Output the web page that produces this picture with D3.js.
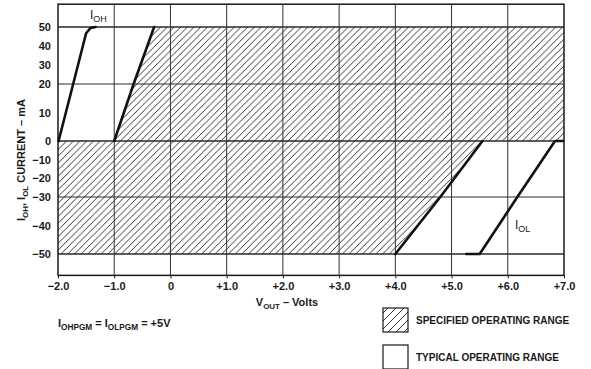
<!DOCTYPE html>
<html>
<head>
<meta charset="utf-8">
<script src="https://cdn.jsdelivr.net/npm/d3@7"></script>
<style>
  body { margin: 0; background: #fff; }
  text { font-family: "Liberation Sans", Arial, Helvetica, sans-serif; fill: #1a1a1a; }
</style>
</head>
<body>
<svg id="chart" width="591" height="369"></svg>
<script>
// x axis: output voltage (V)
const xTicks = [-2, -1, 0, 1, 2, 3, 4, 5, 6, 7];
const xLabels = ['\u22122.0', '\u22121.0', '0', '+1.0', '+2.0', '+3.0', '+4.0', '+5.0', '+6.0', '+7.0'];
// y axis: current (mA), the printed scale is not uniform
const yTicks = [50, 40, 30, 20, 10, 0, -10, -20, -30, -40, -50];
const yLabels = ['50', '40', '30', '20', '10', '0', '\u221210', '\u221220', '\u221230', '\u221240', '\u221250'];
const yGrid = [50, 20, 0, -30, -50];
const xMin = -2, xMax = 7, yMax = 62, yMin = -57.5;

// specified operating range (hatched)
const specV = [-1.0, -0.655, -0.29, 7, 7, 5.55, 4.8, 4.0, -2, -2];
const specI = [0, 20, 50, 50, 0, 0, -30, -50, -50, 0];

// typical curves
const ioh1V = [-1.99, -1.73, -1.5, -1.42, -1.33];
const ioh1I = [0, 20, 46.7, 49.5, 50];
const ioh2V = [-1.0, -0.655, -0.29];
const ioh2I = [0, 20, 50];
const iol1V = [4.0, 4.8, 5.55];
const iol1I = [-50, -30, 0];
const iol2V = [5.26, 5.5, 6.17, 6.84, 6.98];
const iol2I = [-50, -50, -30, 0, 0];

const svg = d3.select('#chart');

const x = d3.scaleLinear().domain([xMin, xMax]).range([58, 564]);
const y = d3.scaleLinear().domain([50, 20, 0, -30, -50]).range([27, 84, 141, 197, 254]);

const defs = svg.append('defs');
const makeHatch = (id, w) => {
  defs.append('pattern')
    .attr('id', id)
    .attr('patternUnits', 'userSpaceOnUse')
    .attr('width', w)
    .attr('height', w)
    .append('path')
    .attr('d', `M0,${w} L${w},0 M${-w / 4},${w / 4} L${w / 4},${-w / 4} M${w * 0.75},${w * 1.25} L${w * 1.25},${w * 0.75}`)
    .style('stroke', '#1e1e1e')
    .style('stroke-width', 0.9);
};
makeHatch('hatch', 6.7);
makeHatch('hatch-legend', 8);

const pts = (vs, is) => vs.map((v, i) => [v, is[i]]);
const line = d3.line().x(d => x(d[0])).y(d => y(d[1]));

// hatched region
svg.append('path')
  .attr('d', line(pts(specV, specI)) + 'Z')
  .style('fill', 'url(#hatch)')
  .style('stroke', 'none');

// grid
const g = svg.append('g');
g.selectAll('.vgrid')
  .data(xTicks.slice(1, -1))
  .enter()
  .append('line')
  .attr('x1', d => x(d))
  .attr('x2', d => x(d))
  .attr('y1', y(yMax))
  .attr('y2', y(yMin))
  .style('stroke', '#333')
  .style('stroke-width', 1);

g.selectAll('.hgrid')
  .data(yGrid)
  .enter()
  .append('line')
  .attr('x1', x(xMin))
  .attr('x2', x(xMax))
  .attr('y1', d => y(d))
  .attr('y2', d => y(d))
  .style('stroke', '#2a2a2a')
  .style('stroke-width', d => (d === 20 || d === -30) ? 1 : 1.4);

// frame
svg.append('rect')
  .attr('x', x(xMin))
  .attr('y', y(yMax))
  .attr('width', x(xMax) - x(xMin))
  .attr('height', y(yMin) - y(yMax))
  .style('fill', 'none')
  .style('stroke', '#1a1a1a')
  .style('stroke-width', 1.5);

// x axis
const xAxis = svg.append('g')
  .attr('transform', `translate(0,${y(yMin)})`)
  .call(d3.axisBottom(x).tickValues(xTicks).tickSize(3).tickPadding(4)
    .tickFormat((d, i) => xLabels[i]));
xAxis.select('.domain').remove();
xAxis.selectAll('line').style('stroke', '#1a1a1a');
xAxis.selectAll('text')
  .style('font-size', '11px')
  .style('font-weight', 'bold')
  .style('fill', '#1a1a1a')
  .style('font-family', '"Liberation Sans", Arial, sans-serif');

// y axis
const yAxis = svg.append('g')
  .attr('transform', `translate(${x(xMin)},0)`)
  .call(d3.axisLeft(y).tickValues(yTicks).tickSize(0).tickPadding(7)
    .tickFormat((d, i) => yLabels[i]));
yAxis.select('.domain').remove();
yAxis.selectAll('text')
  .style('font-size', '11px')
  .style('font-weight', 'bold')
  .style('fill', '#1a1a1a')
  .style('font-family', '"Liberation Sans", Arial, sans-serif');

// curves
[[ioh1V, ioh1I], [ioh2V, ioh2I], [iol1V, iol1I], [iol2V, iol2I]].forEach(([vs, is]) => {
  svg.append('path')
    .attr('d', line(pts(vs, is)))
    .style('fill', 'none')
    .style('stroke', '#111')
    .style('stroke-width', 2.6)
    .style('stroke-linejoin', 'round')
    .style('stroke-linecap', 'round');
});

// text with subscripts: parts = [[text, isSub], ...]
const subText = (sel, parts, size, ratio = 0.72) => {
  parts.forEach(([t, sub], i) => {
    const prevSub = i > 0 && parts[i - 1][1];
    sel.append('tspan')
      .text(t)
      .attr('dy', sub && !prevSub ? 2.5 : (!sub && prevSub ? -2.5 : 0))
      .style('font-size', sub ? (size * ratio) + 'px' : size + 'px');
  });
  return sel;
};

subText(svg.append('text').attr('x', 90).attr('y', 19).style('font-weight', 'normal'),
  [['I', false], ['OH', true]], 12, 0.75);
subText(svg.append('text').attr('x', 515).attr('y', 229).style('font-weight', 'normal'),
  [['I', false], ['OL', true]], 12, 0.75);

// axis titles
subText(svg.append('text')
  .attr('transform', 'translate(25,160) rotate(-90)')
  .attr('text-anchor', 'middle')
  .style('font-weight', 'bold'),
  [['I', false], ['OH', true], [', I', false], ['OL', true], [' CURRENT \u2013 mA', false]], 11);

subText(svg.append('text')
  .attr('x', 287)
  .attr('y', 306)
  .attr('text-anchor', 'middle')
  .style('font-weight', 'bold'),
  [['V', false], ['OUT', true], [' \u2013 Volts', false]], 11);

subText(svg.append('text')
  .attr('x', 58)
  .attr('y', 327)
  .style('font-weight', 'bold'),
  [['I', false], ['OHPGM', true], [' = I', false], ['OLPGM', true], [' = +5V', false]], 11, 0.75);

// legend
const legend = [
  {fill: 'url(#hatch-legend)', label: 'SPECIFIED OPERATING RANGE', y: 308},
  {fill: '#fff', label: 'TYPICAL OPERATING RANGE', y: 345}
];
legend.forEach(d => {
  svg.append('rect')
    .attr('x', 383)
    .attr('y', d.y)
    .attr('width', 25)
    .attr('height', 24)
    .style('fill', d.fill)
    .style('stroke', '#1a1a1a')
    .style('stroke-width', 1.2);
  svg.append('text')
    .attr('x', 416)
    .attr('y', d.y + 16)
    .text(d.label)
    .style('font-size', '10px')
    .style('font-weight', 'bold');
});
</script>
</body>
</html>
